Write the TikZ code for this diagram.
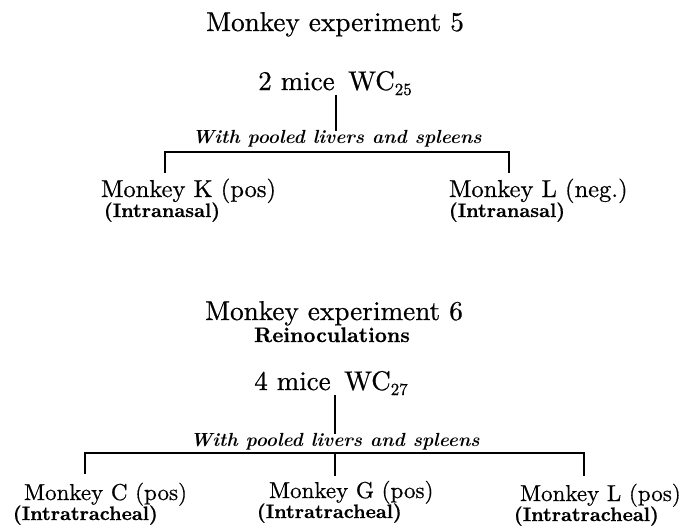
\documentclass[tikz,border=0pt]{standalone}
\usepackage{fontspec}
% Latin Modern at its 10pt design size, slightly darkened, for the labels
\newfontfamily\wide{lmroman10-regular}[Extension=.otf,
  BoldFont=lmroman10-bold, ItalicFont=lmroman10-italic,
  BoldItalicFont=lmroman10-bolditalic, FakeBold=0.6]
\newfontfamily\plain{lmroman10-regular}[Extension=.otf,
  BoldFont=lmroman10-bold, ItalicFont=lmroman10-italic,
  BoldItalicFont=lmroman10-bolditalic]
\newcommand{\lowsub}[1]{\raisebox{-5pt}{\fontsize{17}{20}\selectfont #1}}
\begin{document}
\begin{tikzpicture}[x=1pt,y=-1pt,
  every node/.style={inner sep=0pt,outer sep=0pt},
  title/.style={font=\wide\fontsize{27.2}{30}\selectfont,anchor=base},
  mice/.style={font=\wide\fontsize{27}{30}\selectfont,anchor=base},
  via/.style={font=\plain\fontsize{19}{22}\selectfont\bfseries\itshape,anchor=base},
  monkeytop/.style={font=\wide\fontsize{24.5}{28}\selectfont,anchor=base west},
  monkeybot/.style={font=\wide\fontsize{23}{28}\selectfont,anchor=base west},
  route/.style={font=\wide\fontsize{19.5}{22}\selectfont\bfseries,anchor=base west},
  sub/.style={font=\wide\fontsize{21}{24}\selectfont\bfseries,anchor=base},
  link/.style={line width=1.6pt,line cap=rect}]
\useasboundingbox (0,0) rectangle (684,531);

% ---- experiment 5 ----
\node[title] (t5) at (335,31) {Monkey experiment 5};
\node[mice] (m5) at (335,90) {2 mice\, WC\lowsub{25}};
\node[via] (w5) at (337,143) {With pooled livers and spleens};
\node[monkeytop] (k5) at (101,197) {Monkey K (pos)};
\node[route] (k5r) at (104,217) {(Intranasal)};
\node[monkeytop] (l5) at (449,197) {Monkey L (neg.)};
\node[route] (l5r) at (449,217) {(Intranasal)};

\coordinate (bar5) at (336,152);
\coordinate (d5l) at (165,172);
\coordinate (d5r) at (509,172);
\draw[link] (m5.south -| bar5) -- (w5.north -| bar5);
\draw[link] (d5l) |- (bar5) -| (d5r);

% ---- experiment 6 ----
\node[title] (t6) at (334,320) {Monkey experiment 6};
\node[sub] (r6) at (332,342) {Reinoculations};
\node[mice] (m6) at (331,390) {4 mice\, WC\lowsub{27}};
\node[via] (w6) at (335,446) {With pooled livers and spleens};
\node[monkeybot] (c6) at (24,500) {Monkey C (pos)};
\node[route] (c6r) at (13,520) {(Intratracheal)};
\node[monkeybot] (g6) at (269,498) {Monkey G (pos)};
\node[route] (g6r) at (257,518) {(Intratracheal)};
\node[monkeybot] (l6) at (520,501) {Monkey L (pos)};
\node[route] (l6r) at (514,521) {(Intratracheal)};

\coordinate (bar6) at (335,453);
\coordinate (d6l) at (85,473);
\coordinate (d6m) at (335,475);
\coordinate (d6r) at (584,475);
\draw[link] (m6.south -| bar6) -- (w6.north -| bar6);
\draw[link] (d6l) |- (bar6) -| (d6r);
\draw[link] (bar6) -- (d6m);
\end{tikzpicture}
\end{document}
